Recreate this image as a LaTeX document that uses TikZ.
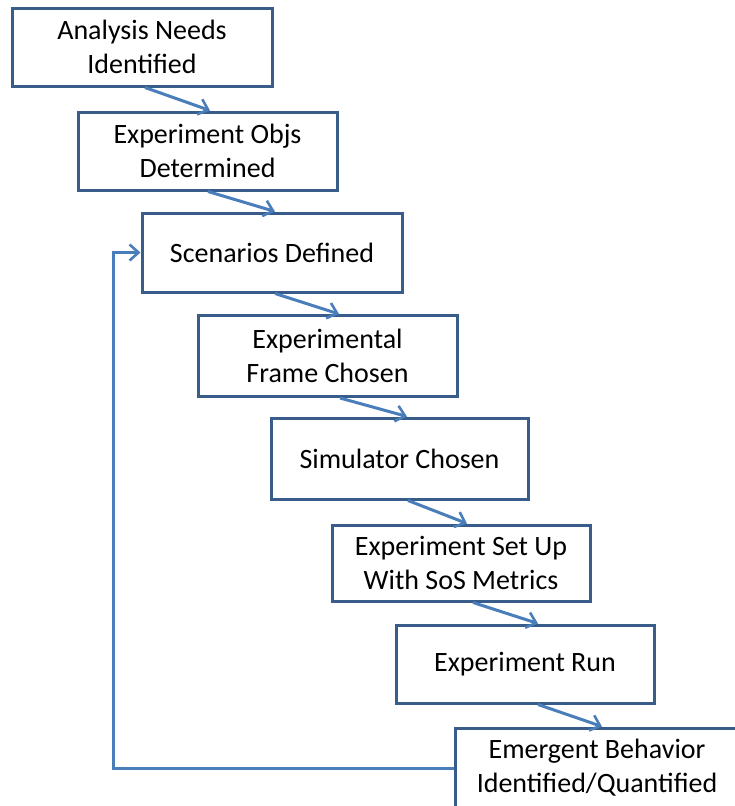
\documentclass[tikz,border=0pt]{standalone}
\usepackage{fontspec}
\setmainfont{Carlito}
\usetikzlibrary{arrows.meta,calc}
\definecolor{boxline}{HTML}{385D8A}
\definecolor{arrline}{HTML}{4A7EBB}
\tikzset{
  stepbox/.style={draw=boxline, line width=3pt, fill=white, align=center,
    font=\fontsize{28}{34}\selectfont, inner sep=0pt, text=black},
  flowarrow/.style={draw=arrline, line width=3pt,
    -{Straight Barb[length=9pt,width=16pt,line width=2.6pt]}},
}
\begin{document}
\begin{tikzpicture}[x=1pt,y=-1pt]
\useasboundingbox (0,0) rectangle (734,806);
\node[stepbox, minimum width=260pt, minimum height=78pt] (b1) at (142,47) {Analysis Needs\\Identified};
\node[stepbox, minimum width=259pt, minimum height=78pt] (b2) at (207.5,151) {Experiment Objs\\Determined};
\node[stepbox, minimum width=260pt, minimum height=79pt] (b3) at (272,252.5) {Scenarios Defined};
\node[stepbox, minimum width=259pt, minimum height=81pt] (b4) at (327.5,356) {Experimental\\Frame Chosen};
\node[stepbox, minimum width=257pt, minimum height=81pt] (b5) at (399.5,458.5) {Simulator Chosen};
\node[stepbox, minimum width=258pt, minimum height=76pt] (b6) at (461,563) {Experiment Set Up\\With SoS Metrics};
\node[stepbox, minimum width=258pt, minimum height=78pt] (b7) at (525,664) {Experiment Run};
\node[stepbox, minimum width=284pt, minimum height=80pt] (b8) at (597,768) {Emergent Behavior\\Identified/Quantified};
\draw[flowarrow] ([xshift=3pt]b1.south) -- ([xshift=2.5pt]b2.north);
\draw[flowarrow] ([xshift=0.5pt]b2.south) -- ([xshift=3pt]b3.north);
\draw[flowarrow] ([xshift=3pt]b3.south) -- ([xshift=11.5pt]b4.north);
\draw[flowarrow] ([xshift=12.5pt]b4.south) -- ([xshift=7.5pt]b5.north);
\draw[flowarrow] ([xshift=8.5pt]b5.south) -- ([xshift=6pt]b6.north);
\draw[flowarrow] ([xshift=12pt]b6.south) -- ([xshift=13pt]b7.north);
\draw[flowarrow] ([xshift=13pt]b7.south) -- ([xshift=5pt]b8.north);
\coordinate (fbl) at (113,768);
\draw[flowarrow] (b8.west) -- (b8.west -| fbl) |- (b3.west);
\end{tikzpicture}
\end{document}
